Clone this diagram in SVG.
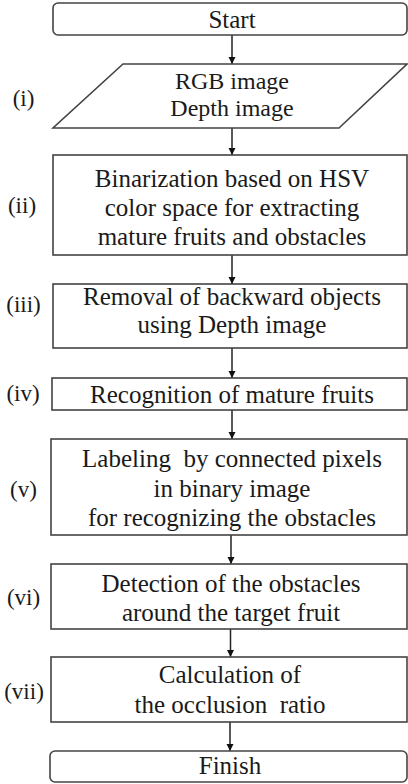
<svg xmlns="http://www.w3.org/2000/svg" width="408" height="784" viewBox="0 0 408 784">
<style>
.box{fill:#fff;stroke:#444;stroke-width:1.6}
.t{font-family:"Liberation Serif","Times New Roman",serif;font-size:25px;fill:#1a1a1a;text-anchor:middle}
.p{font-size:24px}
.lb{font-family:"Liberation Serif","Times New Roman",serif;font-size:23px;fill:#1a1a1a;text-anchor:middle}
.ar{stroke:#222;stroke-width:1.5;fill:none;marker-end:url(#ah)}
</style>
<defs>
<marker id="ah" markerWidth="7" markerHeight="8" refX="7" refY="3.5" orient="auto" markerUnits="userSpaceOnUse">
<path d="M0,0 L7,3.5 L0,7 Z" fill="#111"/>
</marker>
</defs>
<g id="connectors">
<line class="ar" x1="232" y1="35" x2="232" y2="64"/>
<line class="ar" x1="232" y1="128" x2="232" y2="155"/>
<line class="ar" x1="232" y1="255" x2="232" y2="284"/>
<line class="ar" x1="232" y1="348" x2="232" y2="378"/>
<line class="ar" x1="232" y1="410" x2="232" y2="439"/>
<line class="ar" x1="231" y1="535" x2="231" y2="564"/>
<line class="ar" x1="230.5" y1="629" x2="230.5" y2="657"/>
<line class="ar" x1="230" y1="722" x2="230" y2="751"/>
</g>
<g id="start">
<rect class="box" x="53" y="3" width="354" height="32" rx="5"/>
<text class="t" x="232" y="27.5">Start</text>
</g>
<g id="step1">
<polygon class="box" points="123,64 407,64 339,128 53,128"/>
<text class="t p" x="232" y="89">RGB image</text>
<text class="t p" x="232" y="116">Depth image</text>
<text class="lb" x="23.5" y="106">(i)</text>
</g>
<g id="step2">
<rect class="box" x="53" y="155" width="354" height="100"/>
<text class="t" x="232" y="187">Binarization based on HSV</text>
<text class="t" x="232" y="216">color space for extracting</text>
<text class="t" x="232" y="245">mature fruits and obstacles</text>
<text class="lb" x="22" y="213">(ii)</text>
</g>
<g id="step3">
<rect class="box" x="53" y="284" width="354" height="64"/>
<text class="t" x="232" y="305">Removal of backward objects</text>
<text class="t" x="232" y="333">using Depth image</text>
<text class="lb" x="23.5" y="312">(iii)</text>
</g>
<g id="step4">
<rect class="box" x="52" y="378" width="355" height="32"/>
<text class="t" x="232" y="403">Recognition of mature fruits</text>
<text class="lb" x="23" y="401">(iv)</text>
</g>
<g id="step5">
<rect class="box" x="51" y="439" width="356" height="96"/>
<text class="t" x="232" y="467" xml:space="preserve">Labeling  by connected pixels</text>
<text class="t" x="232" y="497">in binary image</text>
<text class="t" x="232" y="526">for recognizing the obstacles</text>
<text class="lb" x="23.5" y="497">(v)</text>
</g>
<g id="step6">
<rect class="box" x="51" y="564" width="356" height="65"/>
<text class="t" x="231" y="592">Detection of the obstacles</text>
<text class="t" x="231" y="621">around the target fruit</text>
<text class="lb" x="23.5" y="605">(vi)</text>
</g>
<g id="step7">
<rect class="box" x="51" y="657" width="356" height="65"/>
<text class="t" x="230" y="683">Calculation of</text>
<text class="t" x="230" y="713" xml:space="preserve">the occlusion  ratio</text>
<text class="lb" x="24" y="699">(vii)</text>
</g>
<g id="finish">
<rect class="box" x="50" y="751" width="357" height="31" rx="5"/>
<text class="t" x="230" y="774">Finish</text>
</g>
</svg>
